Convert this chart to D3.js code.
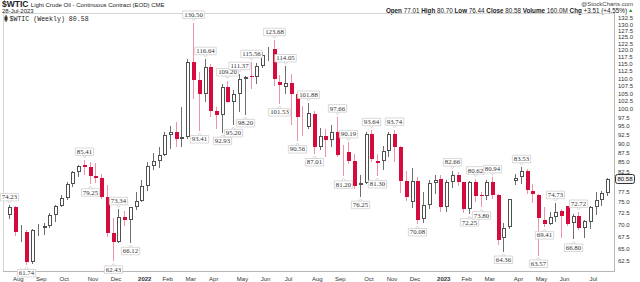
<!DOCTYPE html>
<html>
<head>
<meta charset="utf-8">
<script src="https://cdn.jsdelivr.net/npm/d3@7"></script>
<style>
body { margin: 0; background: #fff; }
svg { display: block; font-family: "Liberation Sans", Arial, sans-serif; }
</style>
</head>
<body>
<svg width="640" height="282"></svg>
<script>
// weekly OHLC, $WTIC, week ending 30-Jul-2021 .. 28-Jul-2023
var opens = [72.1,73.9,68.3,68.4,62.3,69.0,69.3,69.7,72.0,74.0,75.9,79.4,82.3,84.0,83.6,81.3,80.8,76.1,68.2,66.3,71.7,70.9,73.8,
	75.2,78.9,83.8,85.1,86.8,92.3,93.1,91.1,91.6,115.7,109.3,104.7,113.9,99.3,98.3,106.9,102.1,104.7,109.8,110.9,110.4,114.3,118.4,120.5,108.7,107.0,108.4,104.8,94.2,94.7,98.6,89.0,92.1,90.8,93.1,86.5,87.5,85.1,79.0,79.5,92.6,84.6,85.1,87.9,92.6,89.0,80.1,75.0,80.0,71.2,74.3,79.6,
	80.5,73.8,79.9,81.6,79.7,73.4,79.7,76.6,76.3,79.7,76.7,67.2,69.5,80.0,81.1,82.5,77.5,76.6,71.0,70.0,71.6,72.9,74.0,70.2,71.8,69.2,70.6,73.9,75.4,77.01];
var highs = [74.23,74.0,69.9,68.8,69.0,70.0,70.3,72.4,74.3,76.7,79.8,82.5,84.0,85.41,84.9,84.5,81.9,79.0,71.4,73.34,72.9,73.9,77.3,
	80.2,84.8,87.3,88.8,93.2,94.9,96.0,100.5,116.57,130.50,112.0,116.64,114.8,100.5,108.0,109.20,106.0,111.37,110.7,115.56,115.4,119.2,121.0,123.68,111.0,114.05,111.5,105.5,101.0,101.88,99.3,94.4,94.0,95.1,97.66,89.5,90.19,86.9,81.6,93.0,93.64,86.9,89.1,93.0,93.74,89.3,82.5,83.3,81.0,77.3,80.3,81.5,
	81.5,80.2,82.66,82.2,79.9,80.0,80.62,77.3,80.3,80.94,77.0,70.3,75.7,81.8,83.53,83.0,79.2,76.9,73.9,72.8,74.73,73.4,74.2,72.3,72.72,71.0,74.0,77.4,77.5,80.70];
var lows = [71.2,67.6,66.3,61.74,62.0,67.6,67.8,69.3,70.5,73.8,75.4,78.5,81.0,81.5,79.25,79.5,75.6,67.4,62.43,66.0,69.6,66.12,73.2,
	75.1,77.6,82.9,83.3,86.6,88.3,88.9,88.8,91.2,103.0,93.41,102.2,97.7,93.9,92.93,101.9,95.20,99.2,98.20,106.5,108.0,113.5,116.0,107.5,101.53,104.6,95.1,90.56,92.0,94.0,87.01,88.0,86.3,88.9,86.1,81.20,84.4,78.1,76.25,79.4,84.9,81.30,82.9,86.3,85.0,77.2,75.3,73.6,70.08,70.3,73.4,76.8,
	72.74,72.7,78.4,78.9,72.5,72.25,75.1,73.80,75.4,75.7,65.65,64.36,68.9,79.0,79.2,76.9,74.7,63.57,69.41,69.8,70.6,67.03,69.6,66.80,68.8,67.05,69.0,72.1,74.1,76.44];
var closes = [73.95,68.28,68.44,62.32,68.74,69.29,69.72,71.97,73.98,75.88,79.35,82.28,83.76,83.57,81.27,80.79,76.10,68.15,66.26,71.67,70.86,73.79,75.21,
	78.90,83.82,85.14,86.82,92.31,93.10,91.07,91.59,115.68,109.33,104.70,113.90,99.27,98.26,106.95,102.07,104.69,109.77,110.49,110.28,114.20,118.00,118.87,109.56,107.62,108.43,104.79,97.59,94.70,98.62,89.01,92.09,90.77,93.06,86.87,86.79,85.11,78.74,79.49,92.64,85.61,85.05,87.90,92.61,88.96,80.08,76.28,79.98,71.02,74.29,79.56,80.26,
	73.77,79.86,81.64,79.68,73.39,79.72,76.34,76.32,79.68,76.68,66.74,69.26,75.67,80.70,82.52,77.87,76.78,71.34,70.04,71.69,72.67,71.74,70.17,71.78,69.16,70.64,73.86,75.42,77.07,80.58];

// annotated swing points (bar index)
var highMarks = [0,13,19,32,34,38,40,42,46,48,52,57,59,63,67,77,81,84,89,95,99];
var lowMarks = [3,14,18,21,33,37,39,41,47,50,53,58,61,64,71,80,82,86,92,93,98];

var yTicks = [132.5,130.0,127.5,125.0,122.5,120.0,117.5,115.0,112.5,110.0,107.5,105.0,102.5,100.0,97.5,95.0,92.5,90.0,87.5,85.0,82.5,80.0,77.5,75.0,72.5,70.0,67.5,65.0,62.5];
var monthLabels = ["Aug","Sep","Oct","Nov","Dec","2022","Feb","Mar","Apr","May","Jun","Jul","Aug","Sep","Oct","Nov","Dec","2023","Feb","Mar","Apr","May","Jun","Jul"];

var dates = d3.timeFriday.range(new Date(2021, 6, 29), new Date(2023, 6, 29));
var bars = dates.map(function(d, i) {
	return {date: d, o: opens[i], h: highs[i], l: lows[i], c: closes[i], pc: i ? closes[i - 1] : opens[i]};
});

var box = {left: 3.5, right: 614.5, top: 13.5, bottom: 271.5};
var x = d3.scaleTime().domain([dates[0], dates[dates.length - 1]]).range([10, 608]);
var y = d3.scaleLog().domain([62.5, 132.5]).range([261, 18]);

var RED = "#d40b3c", RED_WICK = "#ef93a8", DARK = "#505050", DARK_WICK = "#6e6e6e";

var svg = d3.select("svg");
var last = bars[bars.length - 1];
var ly = y(last.c);

// header
var head = svg.append("text").attr("x", 2).attr("y", 7).style("font-size", "6px").attr("fill", "#222");
head.append("tspan").style("font-size", "8.5px").style("font-weight", "bold").text("$WTIC ");
head.append("tspan").text("Light Crude Oil - Continuous Contract (EOD) CME");
svg.append("text").attr("x", 2).attr("y", 12.5).style("font-size", "6px").attr("fill", "#222").text("28-Jul-2023");

svg.append("text").attr("x", 633).attr("y", 5.5).attr("text-anchor", "end")
	.style("font-size", "6px").attr("fill", "#444").text("@StockCharts.com");

var quote = [["Open", "77.01"], ["High", "80.70"], ["Low", "76.44"], ["Close", "80.58"], ["Volume", "160.0M"], ["Chg", "+3.51 (+4.55%)"]];
var qt = svg.append("text").attr("x", 627).attr("y", 12.5).attr("text-anchor", "end").style("font-size", "6.3px").attr("fill", "#222");
quote.forEach(function(q, i) {
	qt.append("tspan").style("font-weight", "bold").text((i ? "  " : "") + q[0] + " ");
	qt.append("tspan").text(q[1]);
});
svg.append("path").attr("d", "M629,12 L632.5,12 L630.75,9 Z").attr("fill", "#2a9a2a");

// plot frame
svg.append("rect").attr("x", box.left).attr("y", box.top)
	.attr("width", box.right - box.left).attr("height", box.bottom - box.top)
	.attr("fill", "none").attr("stroke", "#d4d4d4");
svg.append("line").attr("x1", box.left).attr("x2", box.right).attr("y1", box.bottom).attr("y2", box.bottom)
	.attr("stroke", "#999").attr("stroke-dasharray", "1,1");
svg.append("line").attr("x1", box.right).attr("x2", box.right).attr("y1", box.top).attr("y2", box.bottom)
	.attr("stroke", "#999").attr("stroke-dasharray", "1,1");

// legend line
var lg = svg.append("g").attr("transform", "translate(4,15)");
lg.append("rect").attr("x", 0.5).attr("y", 1.5).attr("width", 3).attr("height", 4).attr("fill", "#333");
lg.append("line").attr("x1", 2).attr("x2", 2).attr("y1", 0).attr("y2", 7).attr("stroke", "#333");
svg.append("text").attr("x", 9.5).attr("y", 21).style("font-family", "'Liberation Mono', monospace")
	.style("font-size", "6.6px").attr("fill", "#222").text("$WTIC (Weekly) 80.58");

// y axis (right); labels hidden where the last-price tag sits
var ya = svg.append("g").attr("class", "axis").attr("transform", "translate(" + box.right + ",0)")
	.call(d3.axisRight(y).tickValues(yTicks).tickSize(0).tickPadding(3.5)
		.tickFormat(function(v) { return Math.abs(y(v) - ly) < 6 ? "" : d3.format(".1f")(v); }));
ya.select(".domain").remove();
ya.selectAll("text").style("font-size", "6px").style("font-family", "'Liberation Sans', Arial, sans-serif").attr("fill", "#333");

// x axis month labels at first weekly bar of each month
var monthStarts = d3.timeMonth.range(new Date(2021, 7, 1), new Date(2023, 7, 1));
var firstBars = monthStarts.map(function(m) { return d3.timeFriday.ceil(m); });
var xa = svg.append("g").attr("transform", "translate(2," + (box.bottom + 0.5) + ")")
	.call(d3.axisBottom(x).tickValues(firstBars).tickSize(0).tickPadding(5)
		.tickFormat(function(d, i) { return monthLabels[i]; }));
xa.select(".domain").remove();
xa.selectAll("text").style("font-size", "6px").style("font-family", "'Liberation Sans', Arial, sans-serif")
	.attr("fill", "#333").style("font-weight", function(d, i) { return /^\d/.test(monthLabels[i]) ? "bold" : "normal"; });

// candles
var g = svg.append("g");
var cx = function(d) { return Math.round(x(d.date)); };
var candle = g.selectAll(".bar").data(bars).enter().append("g").attr("class", "bar");
candle.append("line")
	.attr("x1", function(d) { return cx(d) - 0.5; })
	.attr("x2", function(d) { return cx(d) - 0.5; })
	.attr("y1", function(d) { return Math.round(y(d.h)); })
	.attr("y2", function(d) { return Math.round(y(d.l)); })
	.attr("stroke", function(d) { return d.c < d.pc ? RED_WICK : DARK_WICK; });
candle.append("rect")
	.attr("x", function(d) { return d.c < d.o ? cx(d) - 2 : cx(d) - 1.5; })
	.attr("width", function(d) { return d.c < d.o ? 4 : 3; })
	.attr("y", function(d) {
		var t = Math.round(y(Math.max(d.o, d.c)));
		return d.c < d.o ? t : t + 0.5;
	})
	.attr("height", function(d) {
		var t = Math.round(y(Math.max(d.o, d.c))), b = Math.round(y(Math.min(d.o, d.c)));
		return d.c < d.o ? Math.max(1, b - t) : Math.max(0, b - t - 1);
	})
	.attr("fill", function(d) { return d.c < d.o ? (d.c < d.pc ? RED : DARK) : "#fff"; })
	.attr("stroke", function(d) { return d.c < d.o ? "none" : (d.c < d.pc ? RED : DARK); });

// swing labels
function tag(i, up) {
	var d = bars[i], v = up ? d.h : d.l;
	var px = cx(d) - 0.5, py = y(v) + (up ? -2 : 2);
	var t = g.append("g");
	var txt = t.append("text").attr("text-anchor", "middle")
		.style("font-family", "'Liberation Serif', 'DejaVu Serif', serif").style("font-size", "6.8px")
		.attr("fill", "#333").text(v.toFixed(2));
	var w = txt.node().getComputedTextLength() + 3, hgt = 7.5;
	var by = up ? py - 2.5 - hgt : py + 2.5;
	t.insert("path", "text")
		.attr("d", "M" + (px - w / 2) + "," + by + "h" + w + "v" + hgt + "h" + (-w) + "Z" +
			(up ? "M" + (px - 2) + "," + (by + hgt) + "L" + px + "," + (by + hgt + 2.5) + "L" + (px + 2) + "," + (by + hgt)
				: "M" + (px - 2) + "," + by + "L" + px + "," + (by - 2.5) + "L" + (px + 2) + "," + by))
		.attr("fill", "#fff").attr("stroke", "#cfcfcf").attr("stroke-width", 0.8);
	txt.attr("x", px).attr("y", by + hgt - 1.6);
}
highMarks.forEach(function(i) { tag(i, true); });
lowMarks.forEach(function(i) { tag(i, false); });

// last price tag
svg.append("rect").attr("x", 615.5).attr("y", Math.round(ly) - 4.5).attr("width", 19).attr("height", 9).attr("rx", 2)
	.attr("fill", "#f2f2f2").attr("stroke", "#333");
svg.append("text").attr("x", 625).attr("y", ly + 2.2).attr("text-anchor", "middle")
	.style("font-size", "6px").attr("fill", "#111").text(last.c.toFixed(2));
</script>
</body>
</html>
